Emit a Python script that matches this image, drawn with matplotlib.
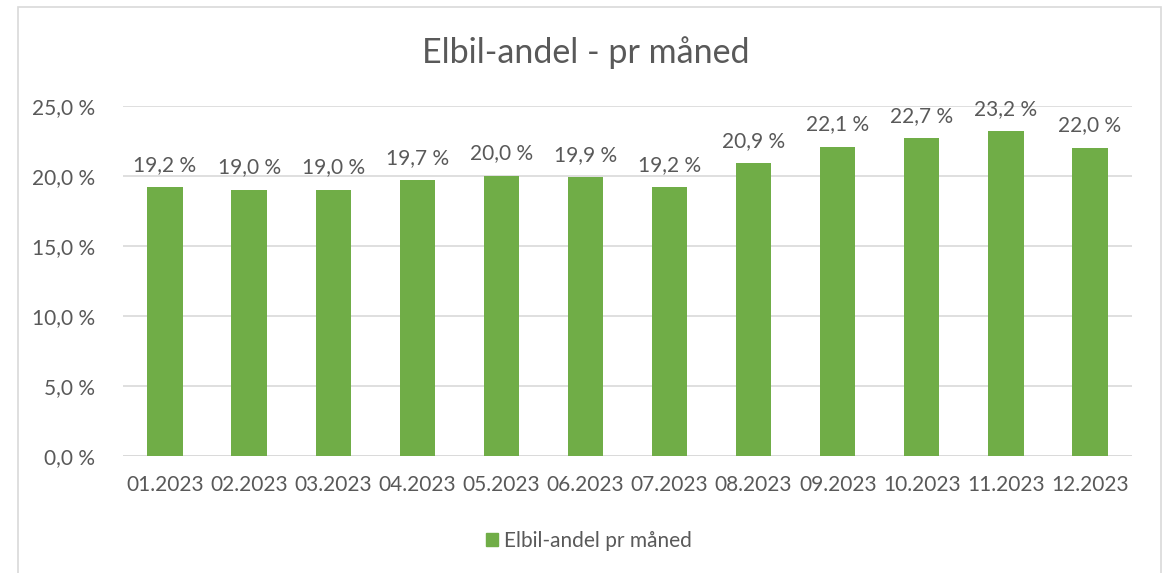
import matplotlib.pyplot as plt
from matplotlib.patches import Rectangle, Patch

plt.rcParams['font.family'] = ['Lato', 'DejaVu Sans']

months = ['01.2023', '02.2023', '03.2023', '04.2023', '05.2023', '06.2023',
          '07.2023', '08.2023', '09.2023', '10.2023', '11.2023', '12.2023']
andel = [19.2, 19.0, 19.0, 19.7, 20.0, 19.9, 19.2, 20.9, 22.1, 22.7, 23.2, 22.0]
yticks = [0, 5, 10, 15, 20, 25]

green = '#70AD47'
grey_txt = '#595959'
grid_c = '#D9D9D9'

fig = plt.figure(figsize=(11.71, 5.73), dpi=100)
fig.patches.append(Rectangle((18 / 1171, -0.05), (1161 - 18) / 1171, 1.05 - 7 / 573,
                             transform=fig.transFigure, fill=False,
                             edgecolor=grid_c, linewidth=1.2))

ax = fig.add_axes([0.105, 0.2042, 0.8617, 0.6108])
x = range(len(months))
bars = ax.bar(x, andel, width=0.42, color=green, zorder=3)

for i, v in enumerate(andel):
    ax.annotate(f'{v:.1f} %'.replace('.', ','), (i, v), xytext=(0, 9),
                textcoords='offset points', ha='center', va='bottom',
                fontsize=15, color=grey_txt)

ax.set_xlim(-0.5, len(months) - 0.5)
ax.set_ylim(0, 25)
ax.set_yticks(yticks)
ax.set_yticklabels([f'{t:.1f} %'.replace('.', ',') for t in yticks])
ax.set_xticks(list(x))
ax.set_xticklabels(months)
ax.tick_params(length=0, labelsize=15, colors=grey_txt)
ax.tick_params(axis='x', pad=14)
ax.tick_params(axis='y', pad=20)
ax.grid(axis='y', color=grid_c, linewidth=1.2, zorder=0)
for s in ax.spines.values():
    s.set_visible(False)
ax.axhline(0, color=grid_c, linewidth=1.2, zorder=2)

fig.text(0.5, 1 - 53 / 573, 'Elbil-andel - pr måned', ha='center', va='center',
         fontsize=24.5, color=grey_txt)

fig.legend(handles=[Patch(color=green, label='Elbil-andel pr måned')],
           loc='center', bbox_to_anchor=(0.503, 1 - 541 / 573), frameon=False,
           fontsize=15, handlelength=0.6, handleheight=0.6, handletextpad=0.3,
           labelcolor=grey_txt)

fig.savefig('out.png', dpi=100)
